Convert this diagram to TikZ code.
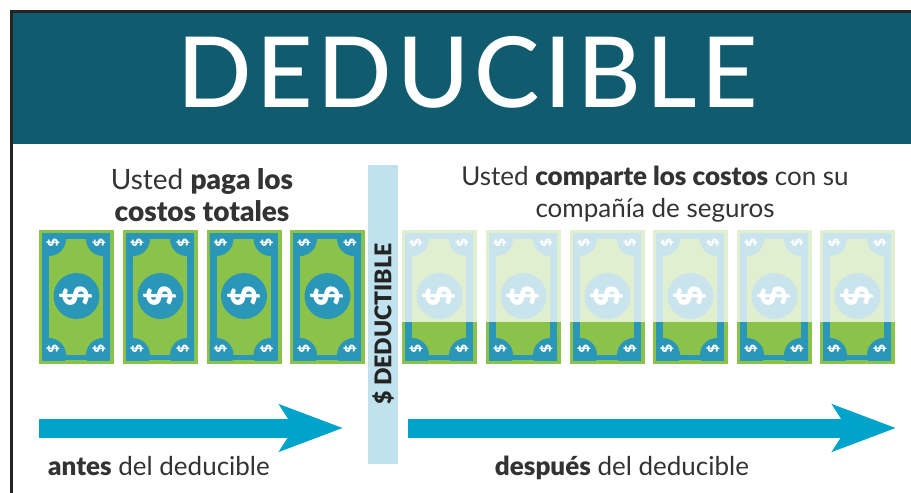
\documentclass[tikz,border=0pt]{standalone}
\usepackage{fontspec}
\setmainfont{Lato}
\newfontfamily\heavyfont{Lato Black}
\newfontfamily\titlefont{Lato Medium}[LetterSpace=5]
\usetikzlibrary{arrows.meta}
\usetikzlibrary{positioning}

\definecolor{headerteal}{HTML}{105B6E}
\definecolor{billgreen}{HTML}{8BC34A}
\definecolor{billblue}{HTML}{2B97B8}
\definecolor{arrowblue}{HTML}{00A3C9}
\definecolor{stripblue}{HTML}{BFE2EE}
\definecolor{textgray}{HTML}{333333}

\tikzset{
  caption/.style={font=\fontsize{26}{32}\selectfont, text=textgray, align=center, inner sep=0pt},
  flow/.style={draw=arrowblue, line width=19pt, -{Stealth[length=63pt,width=46pt,inset=14pt]}},
  pics/bill/.style={code={
    \fill[billgreen] (0,0) rectangle (75,134);
    \fill[billblue] (3,3) rectangle (71,130);
    \fill[billgreen] (10,9) rectangle (64,125);
    \begin{scope}
      \clip (3,3) rectangle (71,130);
      \foreach \cx/\cy in {10/9, 64/9, 10/125, 64/125}
        \fill[billblue] (\cx,\cy) circle (17);
    \end{scope}
    \fill[billblue] (37.5,66) circle (23);
    \node[rotate=95,text=white,font=\fontsize{35}{35}\heavyfont,inner sep=0pt] at (37.5,66) {\$};
    \foreach \sx/\sy in {14/13, 60/13, 14/119, 60/119}
      \node[rotate=95,text=white,font=\fontsize{14}{14}\heavyfont,inner sep=0pt] at (\sx,\sy) {\$};
  }}
}

\begin{document}
\begin{tikzpicture}[x=1pt,y=-1pt]
\useasboundingbox (0,0) rectangle (911,493);

% frame and header
\fill[headerteal] (12,12) rectangle (911,144);
\draw[textgray!70!black,line width=2.5pt] (11.5,493) -- (11.5,11.5) -- (911,11.5);
\node (title) [text=white,font=\fontsize{98}{98}\titlefont,inner sep=0pt] at (467.5,72) {DEDUCIBLE};

% bills
\foreach \bx in {39,123,206.5,290,402,486,570,653,737,820}
  \pic at (\bx,230) {bill};
\fill[white,opacity=.75] (400,230) rectangle (896,322);

% deductible strip
\fill[stripblue] (368,165) rectangle (398,464);
\node (strip) [rotate=90,text=textgray!70!black,font=\fontsize{23}{23}\heavyfont,inner sep=0pt] at (383,324) {\$ DEDUCTIBLE};

% captions
\node (before) [caption,font=\fontsize{28}{32}\selectfont] at (202,195) {Usted {\heavyfont paga los}\\{\heavyfont costos totales}};
\node (after) [caption] at (655,194) {Usted {\heavyfont comparte los costos} con su\\compañía de seguros};

% arrows
\coordinate (a1) at (39,428);
\coordinate (a2) at (343,428);
\coordinate (b1) at (408,428);
\coordinate (b2) at (896,428);
\draw[flow] (a1) -- (a2);
\draw[flow] (b1) -- (b2);

\node (antes) [caption,anchor=base] at (159,475) {{\heavyfont antes} del deducible};
\node (despues) [caption,anchor=base] at (622,475) {{\heavyfont después} del deducible};
\end{tikzpicture}
\end{document}
